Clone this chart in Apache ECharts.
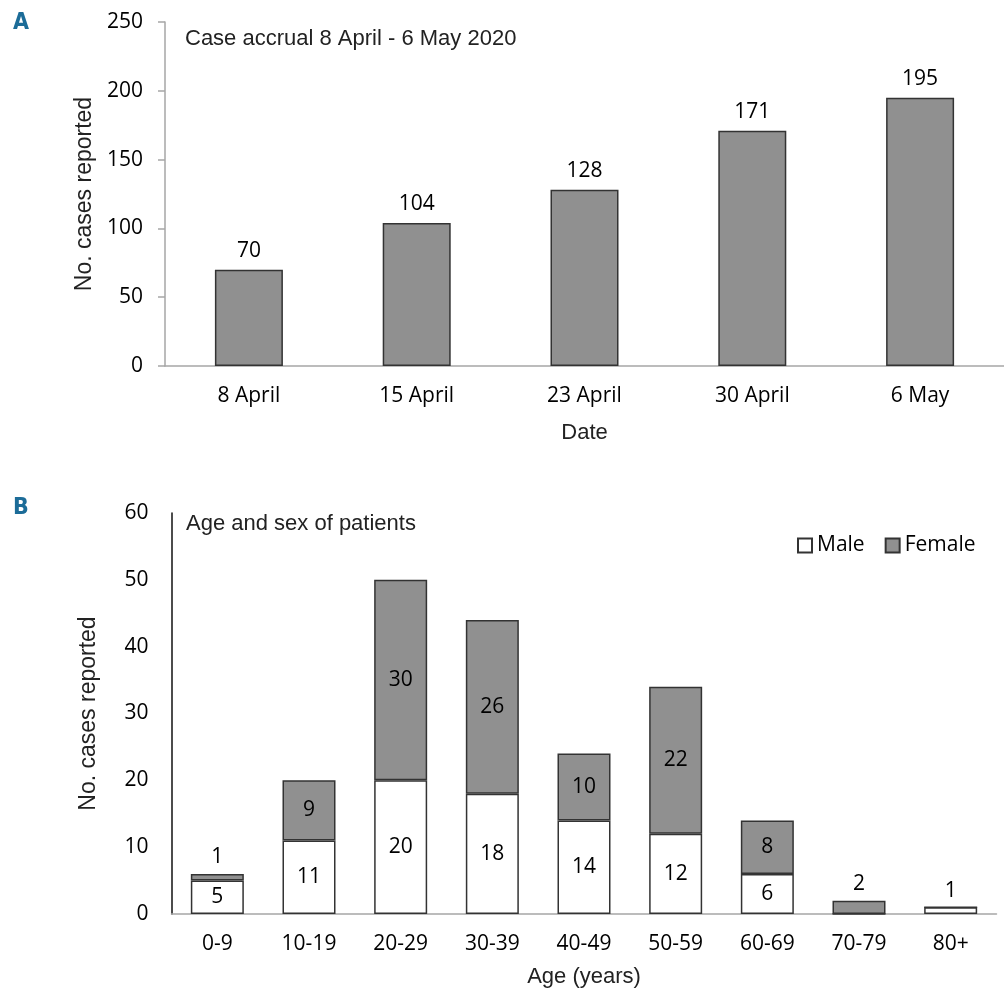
<!DOCTYPE html>
<html>
<head>
<meta charset="utf-8">
<script src="https://cdn.jsdelivr.net/npm/echarts@6/dist/echarts.min.js"></script>
<style>
  html, body { margin: 0; padding: 0; background: #fff; }
  #chart { width: 1004px; height: 993px; }
</style>
</head>
<body>
<div id="chart"></div>
<script>
// ---- Data ----
const datesA = ['8 April', '15 April', '23 April', '30 April', '6 May'];
const casesA = [70, 104, 128, 171, 195];
const yTicksA = [0, 50, 100, 150, 200, 250];

const agesB = ['0-9', '10-19', '20-29', '30-39', '40-49', '50-59', '60-69', '70-79', '80+'];
const maleB = [5, 11, 20, 18, 14, 12, 6, 0, 1];
const femaleB = [1, 9, 30, 26, 10, 22, 8, 2, 0];
const yTicksB = [0, 10, 20, 30, 40, 50, 60];

// ---- Styles ----
const tickFont = "'Open Sans', 'Noto Sans', sans-serif";
const arialFont = "'Liberation Sans', Arial, sans-serif";
const GRAY = '#909090';
const EDGE = '#333333';
const FS = 21;

function itemsWithLabels(values) {
  return values.map(v => {
    const d = { value: v };
    if (v <= 2) d.label = { position: 'top', distance: 6 };
    return d;
  });
}

const chart = echarts.init(document.getElementById('chart'), null, { renderer: 'canvas' });

const option = {
  animation: false,
  backgroundColor: '#ffffff',
  textStyle: { fontFamily: tickFont },
  grid: [
    { left: 165, top: 22, width: 850, height: 344 },
    { left: 171.5, top: 513, width: 825, height: 401 }
  ],
  legend: {
    data: ['Male', 'Female'],
    left: 792,
    top: 530,
    itemWidth: 14,
    itemHeight: 14,
    itemGap: 20,
    icon: 'rect',
    textStyle: { fontFamily: tickFont, fontSize: FS, color: '#000' }
  },
  xAxis: [
    {
      type: 'category', gridIndex: 0, data: datesA,
      axisLine: { lineStyle: { color: '#a6a6a6', width: 1.5 } },
      axisTick: { show: false },
      axisLabel: { fontSize: FS, color: '#000', margin: 20, fontFamily: tickFont },
      name: 'Date', nameLocation: 'middle', nameGap: 56,
      nameTextStyle: { fontSize: 22, color: '#222', fontFamily: arialFont }
    },
    {
      type: 'category', gridIndex: 1, data: agesB,
      axisLine: { lineStyle: { color: '#a6a6a6', width: 1.5 } },
      axisTick: { show: false },
      axisLabel: { fontSize: FS, color: '#000', margin: 20, fontFamily: tickFont },
      name: 'Age (years)', nameLocation: 'middle', nameGap: 52,
      nameTextStyle: { fontSize: 22, color: '#222', fontFamily: arialFont }
    }
  ],
  yAxis: [
    {
      type: 'value', gridIndex: 0,
      min: yTicksA[0], max: yTicksA[yTicksA.length - 1], interval: yTicksA[1] - yTicksA[0],
      splitLine: { show: false },
      axisLine: { show: true, lineStyle: { color: '#a6a6a6', width: 1.5 } },
      axisTick: { show: true, length: 7, lineStyle: { color: '#a6a6a6', width: 1.5 } },
      axisLabel: { fontSize: FS, color: '#000', margin: 22, fontFamily: tickFont },
      name: 'No. cases reported', nameLocation: 'middle', nameGap: 65, nameRotate: 90,
      nameTextStyle: { fontSize: 23, color: '#222', fontFamily: arialFont }
    },
    {
      type: 'value', gridIndex: 1,
      min: yTicksB[0], max: yTicksB[yTicksB.length - 1], interval: yTicksB[1] - yTicksB[0],
      splitLine: { show: false },
      axisLine: { show: true, lineStyle: { color: '#111', width: 1.5 } },
      axisTick: { show: false },
      axisLabel: { fontSize: FS, color: '#000', margin: 23, fontFamily: tickFont },
      name: 'No. cases reported', nameLocation: 'middle', nameGap: 71, nameRotate: 90,
      nameTextStyle: { fontSize: 23, color: '#222', fontFamily: arialFont }
    }
  ],
  series: [
    {
      name: 'Cases', type: 'bar', xAxisIndex: 0, yAxisIndex: 0,
      data: casesA, barWidth: 68,
      itemStyle: { color: GRAY, borderColor: EDGE, borderWidth: 1.5 },
      label: { show: true, position: 'top', distance: 8, fontSize: FS, color: '#000', fontFamily: tickFont }
    },
    {
      name: 'Male', type: 'bar', xAxisIndex: 1, yAxisIndex: 1, stack: 'sex',
      data: itemsWithLabels(maleB), barWidth: 53,
      itemStyle: { color: '#ffffff', borderColor: EDGE, borderWidth: 1.5 },
      label: {
        show: true, position: 'inside', fontSize: FS, color: '#000', fontFamily: tickFont,
        formatter: p => (p.value ? String(p.value) : '')
      }
    },
    {
      name: 'Female', type: 'bar', xAxisIndex: 1, yAxisIndex: 1, stack: 'sex',
      data: itemsWithLabels(femaleB), barWidth: 53,
      itemStyle: { color: GRAY, borderColor: EDGE, borderWidth: 1.5 },
      label: {
        show: true, position: 'inside', fontSize: FS, color: '#000', fontFamily: tickFont,
        formatter: p => (p.value ? String(p.value) : '')
      }
    }
  ],
  graphic: [
    { type: 'text', left: 13, top: 12, style: { text: 'A', font: "bold 23px 'Liberation Sans Narrow', 'DejaVu Sans Condensed', sans-serif", fill: '#1c6c98' } },
    { type: 'text', left: 13, top: 497, style: { text: 'B', font: "bold 23px 'Liberation Sans Narrow', 'DejaVu Sans Condensed', sans-serif", fill: '#1c6c98' } },
    { type: 'text', left: 185, top: 28, style: { text: 'Case accrual 8 April - 6 May 2020', font: "22px 'Liberation Sans', Arial, sans-serif", fill: '#222' } },
    { type: 'text', left: 186, top: 513, style: { text: 'Age and sex of patients', font: "22px 'Liberation Sans', Arial, sans-serif", fill: '#222' } }
  ]
};

chart.setOption(option);
</script>
</body>
</html>
